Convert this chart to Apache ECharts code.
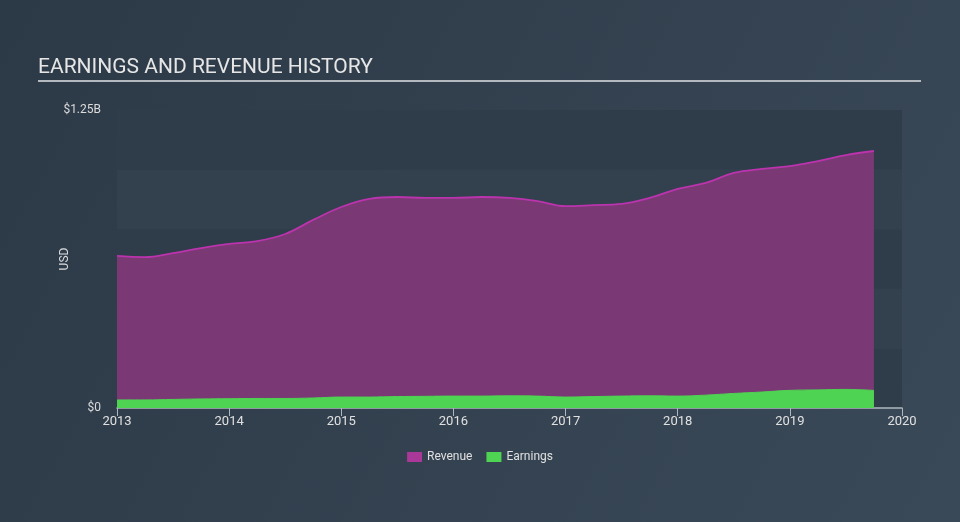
<!DOCTYPE html>
<html>
<head>
<meta charset="utf-8">
<script src="https://cdn.jsdelivr.net/npm/echarts@6/dist/echarts.min.js"></script>
<style>
html,body{margin:0;padding:0;width:960px;height:522px;overflow:hidden;}
#chart{width:960px;height:522px;}
</style>
</head>
<body>
<div id="chart"></div>
<script>
const periods = [2013.0,2013.25,2013.5,2013.75,2014.0,2014.25,2014.5,2014.75,2015.0,2015.25,2015.5,2015.75,2016.0,2016.25,2016.5,2016.75,2017.0,2017.25,2017.5,2017.75,2018.0,2018.25,2018.5,2018.75,2019.0,2019.25,2019.5,2019.75];
const revenue = [638,633,650,671,688,700,730,789,843,877,885,881,881,885,881,868,847,851,856,881,919,944,986,1003,1015,1036,1061,1078].map(v=>v*1e6);
const earnings = [34,34,36,38,39,40,40,42,46,46,48,49,50,50,51,50,46,48,50,51,50,54,61,67,74,76,78,74].map(v=>v*1e6);
const yearTicks = [2013,2014,2015,2016,2017,2018,2019,2020];
const yLabels = {0:'$0',1250000000:'$1.25B'};

const chart = echarts.init(document.getElementById('chart'));
const pair = arr => periods.map((p,i)=>[p,arr[i]]);
chart.setOption({
  backgroundColor: new echarts.graphic.LinearGradient(0,0,1,1,[{offset:0,color:'#2c3947'},{offset:1,color:'#3a4958'}]),
  animation:false,
  textStyle:{fontFamily:'Roboto'},
  title:{text:'EARNINGS AND REVENUE HISTORY',left:33,top:52,textStyle:{color:'#e6e6e6',fontSize:21,fontWeight:'normal',fontFamily:'Roboto'}},
  graphic:[{type:'line',shape:{x1:38,y1:81,x2:921,y2:81},style:{stroke:'#b4b9bf',lineWidth:2}}],
  grid:{left:117,right:58,top:110,bottom:114},
  legend:{bottom:54,left:'center',itemWidth:15,itemHeight:10,itemGap:14,icon:'rect',
    textStyle:{color:'#e0e0e0',fontSize:12},
    data:[{name:'Revenue',itemStyle:{color:'#a93898'}},{name:'Earnings',itemStyle:{color:'#4fd352'}}]},
  xAxis:{type:'value',min:2013,max:2020,interval:1,
    axisLine:{show:true,lineStyle:{color:'#aeb6bf',width:1.5}},
    axisTick:{show:true,length:8,lineStyle:{color:'#aeb6bf'}},
    axisLabel:{color:'#e0e0e0',fontSize:13,margin:7,formatter:v=>yearTicks.includes(v)?String(v):''},
    splitLine:{show:false}},
  yAxis:{type:'value',min:0,max:1250000000,interval:250000000,
    name:'USD',nameLocation:'middle',nameGap:46,nameMoveOverlap:false,nameRotate:90,nameTextStyle:{color:'#dcdcdc',fontSize:12},
    axisLine:{show:false},axisTick:{show:false},
    axisLabel:{color:'#dcdcdc',fontSize:12,margin:16,formatter:v=>yLabels[v]||''},
    splitLine:{show:false},
    splitArea:{show:true,areaStyle:{color:['#2f3c4a','#33414f']}}},
  series:[
    {name:'Revenue',type:'line',data:pair(revenue),smooth:0.4,symbol:'none',
      lineStyle:{color:'#bb33ad',width:1.8},itemStyle:{color:'#a93898'},
      areaStyle:{color:'#7a3875',opacity:1},z:2},
    {name:'Earnings',type:'line',data:pair(earnings),smooth:0.4,symbol:'none',
      lineStyle:{color:'#4fd352',width:1},itemStyle:{color:'#4fd352'},
      areaStyle:{color:'#4fd352',opacity:1},z:3}
  ]
});
</script>
</body>
</html>
